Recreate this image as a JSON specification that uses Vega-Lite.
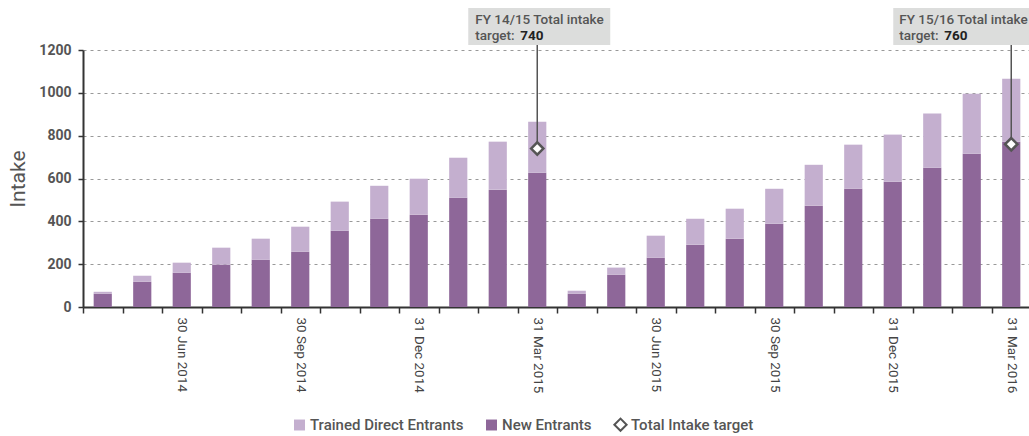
{
  "$schema": "https://vega.github.io/schema/vega-lite/v6.json",
  "width": 948,
  "height": 257,
  "autosize": {"type": "none"},
  "padding": {"left": 83, "top": 50, "right": 0, "bottom": 129},
  "background": "white",
  "config": {
    "font": "Roboto",
    "view": {"stroke": null}
  },
  "data": {
    "values": [
      {"period": "30 Apr 2014", "New Entrants": 62, "Trained Direct Entrants": 9},
      {"period": "31 May 2014", "New Entrants": 118, "Trained Direct Entrants": 28},
      {"period": "30 Jun 2014", "New Entrants": 160, "Trained Direct Entrants": 47},
      {"period": "31 Jul 2014", "New Entrants": 198, "Trained Direct Entrants": 79},
      {"period": "31 Aug 2014", "New Entrants": 221, "Trained Direct Entrants": 98},
      {"period": "30 Sep 2014", "New Entrants": 258, "Trained Direct Entrants": 117},
      {"period": "31 Oct 2014", "New Entrants": 356, "Trained Direct Entrants": 136},
      {"period": "30 Nov 2014", "New Entrants": 412, "Trained Direct Entrants": 154},
      {"period": "31 Dec 2014", "New Entrants": 431, "Trained Direct Entrants": 168},
      {"period": "31 Jan 2015", "New Entrants": 510, "Trained Direct Entrants": 187},
      {"period": "28 Feb 2015", "New Entrants": 548, "Trained Direct Entrants": 224},
      {"period": "31 Mar 2015", "New Entrants": 627, "Trained Direct Entrants": 238, "target": 740, "note": "FY 14/15 Total intake"},
      {"period": "30 Apr 2015", "New Entrants": 62, "Trained Direct Entrants": 14},
      {"period": "31 May 2015", "New Entrants": 151, "Trained Direct Entrants": 33},
      {"period": "30 Jun 2015", "New Entrants": 230, "Trained Direct Entrants": 103},
      {"period": "31 Jul 2015", "New Entrants": 291, "Trained Direct Entrants": 121},
      {"period": "31 Aug 2015", "New Entrants": 319, "Trained Direct Entrants": 140},
      {"period": "30 Sep 2015", "New Entrants": 389, "Trained Direct Entrants": 163},
      {"period": "31 Oct 2015", "New Entrants": 473, "Trained Direct Entrants": 191},
      {"period": "30 Nov 2015", "New Entrants": 552, "Trained Direct Entrants": 206},
      {"period": "31 Dec 2015", "New Entrants": 585, "Trained Direct Entrants": 220},
      {"period": "31 Jan 2016", "New Entrants": 650, "Trained Direct Entrants": 253},
      {"period": "29 Feb 2016", "New Entrants": 716, "Trained Direct Entrants": 280},
      {"period": "31 Mar 2016", "New Entrants": 772, "Trained Direct Entrants": 294, "target": 760, "note": "FY 15/16 Total intake"}
    ]
  },
  "encoding": {
    "x": {
      "field": "period",
      "type": "ordinal",
      "sort": null,
      "scale": {"paddingInner": 0, "paddingOuter": 0},
      "axis": {
        "title": null,
        "tickBand": "extent",
        "labelAngle": 90,
        "labelAlign": "left",
        "labelBaseline": "middle",
        "labelFontSize": 13.5,
        "labelColor": "#444444",
        "labelPadding": 4,
        "labelExpr": "indexof(['Jun','Sep','Dec','Mar'], split(datum.value, ' ')[1]) >= 0 ? datum.value : ''",
        "tickSize": 6,
        "tickColor": "#333333",
        "tickWidth": 1.5,
        "domainColor": "#333333",
        "domainWidth": 2,
        "grid": false
      }
    }
  },
  "layer": [
    {
      "transform": [{"fold": ["New Entrants", "Trained Direct Entrants"], "as": ["series", "value"]}],
      "mark": {"type": "bar", "width": {"band": 0.46}},
      "encoding": {
        "y": {
          "field": "value",
          "type": "quantitative",
          "aggregate": "sum",
          "stack": "zero",
          "scale": {"domain": [0, 1200], "nice": false},
          "axis": {
            "values": [0, 200, 400, 600, 800, 1000, 1200],
            "format": "d",
            "title": "Intake",
            "titleFontSize": 21,
            "titleFontWeight": "normal",
            "titleColor": "#555555",
            "titlePadding": 10,
            "labelFontSize": 14,
            "labelFontWeight": "bold",
            "labelColor": "#555555",
            "labelPadding": 7,
            "tickSize": 5,
            "tickColor": "#333333",
            "tickWidth": 1.5,
            "domainColor": "#333333",
            "domainWidth": 2,
            "grid": true,
            "gridColor": "#999999",
            "gridDash": [3, 4],
            "gridWidth": 1
          }
        },
        "color": {
          "field": "series",
          "type": "nominal",
          "scale": {
            "domain": ["Trained Direct Entrants", "New Entrants", "Total Intake target"],
            "range": ["#c4afcf", "#8e6799", "#ffffff"]
          },
          "legend": {
            "title": null,
            "orient": "none",
            "direction": "horizontal",
            "legendX": 209,
            "legendY": 367,
            "labelFontSize": 15,
            "labelFontWeight": 500,
            "labelColor": "#555555",
            "labelOffset": 3,
            "columnPadding": 18,
            "symbolSize": 120,
            "encode": {
              "symbols": {
                "update": {
                  "shape": {"signal": "datum.value === 'Total Intake target' ? 'diamond' : 'square'"},
                  "stroke": {"signal": "datum.value === 'Total Intake target' ? '#555555' : 'transparent'"},
                  "strokeWidth": {"value": 2},
                  "size": {"signal": "datum.value === 'Total Intake target' ? 150 : 120"}
                }
              }
            }
          }
        },
        "order": {"field": "series", "sort": "ascending"}
      }
    },
    {
      "transform": [{"filter": "isValid(datum.target)"}],
      "mark": {"type": "rule", "color": "#555555", "strokeWidth": 1.5},
      "encoding": {
        "y": {"field": "target", "type": "quantitative"},
        "y2": {"datum": 1223}
      }
    },
    {
      "transform": [{"filter": "isValid(datum.target)"}],
      "mark": {"type": "point", "shape": "diamond", "filled": true, "size": 150, "stroke": "#555555", "strokeWidth": 2.5, "opacity": 1},
      "encoding": {
        "y": {"field": "target", "type": "quantitative"},
        "color": {"datum": "Total Intake target"}
      }
    },
    {
      "transform": [{"filter": "datum.period === '31 Mar 2015'"}],
      "mark": {"type": "bar", "width": 142, "color": "#dcdddc", "xOffset": 2},
      "encoding": {"y": {"datum": 1223}, "y2": {"datum": 1396}}
    },
    {
      "transform": [{"filter": "datum.period === '31 Mar 2016'"}],
      "mark": {"type": "bar", "width": 142, "color": "#dcdddc", "xOffset": -47},
      "encoding": {"y": {"datum": 1223}, "y2": {"datum": 1396}}
    },
    {
      "transform": [{"filter": "datum.period === '31 Mar 2015'"}],
      "layer": [
        {
          "mark": {"type": "text", "align": "left", "baseline": "alphabetic", "dx": -62, "fontSize": 13.5, "color": "#555555", "fontWeight": 500},
          "encoding": {"y": {"datum": 1321}, "text": {"field": "note"}}
        },
        {
          "mark": {"type": "text", "align": "left", "baseline": "alphabetic", "dx": -62, "fontSize": 13.5, "color": "#555555", "fontWeight": 500},
          "encoding": {"y": {"datum": 1249}, "text": {"value": "target:"}}
        },
        {
          "mark": {"type": "text", "align": "left", "baseline": "alphabetic", "dx": -17, "fontSize": 13.5, "color": "#222222", "fontWeight": "bold"},
          "encoding": {"y": {"datum": 1249}, "text": {"field": "target"}}
        }
      ]
    },
    {
      "transform": [{"filter": "datum.period === '31 Mar 2016'"}],
      "layer": [
        {
          "mark": {"type": "text", "align": "left", "baseline": "alphabetic", "dx": -112, "fontSize": 13.5, "color": "#555555", "fontWeight": 500},
          "encoding": {"y": {"datum": 1321}, "text": {"field": "note"}}
        },
        {
          "mark": {"type": "text", "align": "left", "baseline": "alphabetic", "dx": -112, "fontSize": 13.5, "color": "#555555", "fontWeight": 500},
          "encoding": {"y": {"datum": 1249}, "text": {"value": "target:"}}
        },
        {
          "mark": {"type": "text", "align": "left", "baseline": "alphabetic", "dx": -67, "fontSize": 13.5, "color": "#222222", "fontWeight": "bold"},
          "encoding": {"y": {"datum": 1249}, "text": {"field": "target"}}
        }
      ]
    }
  ]
}
